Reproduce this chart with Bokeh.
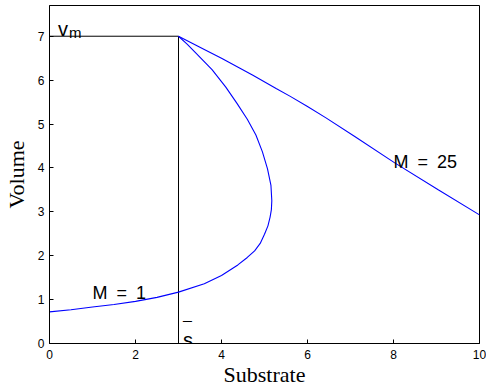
from bokeh.plotting import figure
from bokeh.models import Label, FixedTicker, Range1d
from bokeh.embed import file_html
from bokeh.resources import INLINE

# ---- data ----
m1_x = [0, 0.5, 1, 1.5, 2, 2.5, 3, 3.6, 4.0, 4.38, 4.6, 4.77, 4.9, 5.0, 5.08, 5.13, 5.16, 5.17,
        5.15, 5.07, 4.95, 4.8, 4.6, 4.36, 4.1, 3.78, 3.4, 3.2, 3]
m1_y = [0.72, 0.77, 0.83, 0.89, 0.96, 1.05, 1.17, 1.36, 1.55, 1.79, 1.96, 2.11, 2.28, 2.49, 2.68, 2.88, 3.05, 3.25,
        3.6, 3.98, 4.37, 4.75, 5.11, 5.47, 5.84, 6.24, 6.62, 6.82, 7]

m25_x = [3, 3.6, 4.0, 4.73, 5.27, 5.6, 6.0, 6.43, 7.09, 8.02, 9.03, 10]
m25_y = [7, 6.70, 6.50, 6.11, 5.81, 5.63, 5.40, 5.14, 4.72, 4.12, 3.51, 2.93]

v_m = 7.0
s_bar = 3.0

x_ticks = [0, 2, 4, 6, 8, 10]
y_ticks = [0, 1, 2, 3, 4, 5, 6, 7]

p = figure(width=486, height=389, x_range=Range1d(0, 10), y_range=Range1d(0, 7.70),
           output_backend="svg", toolbar_location=None,
           min_border_left=48, min_border_right=7, min_border_top=5, min_border_bottom=44,
           x_axis_label="Substrate", y_axis_label="Volume")

p.xgrid.visible = False
p.ygrid.visible = False
p.outline_line_color = "black"
p.outline_line_width = 1
p.background_fill_color = "white"
p.border_fill_color = "white"

p.xaxis.ticker = FixedTicker(ticks=x_ticks)
p.yaxis.ticker = FixedTicker(ticks=y_ticks)
for ax in (p.xaxis, p.yaxis):
    ax.axis_line_color = "black"
    ax.major_tick_line_color = "black"
    ax.major_tick_in = 4
    ax.major_tick_out = 0
    ax.minor_tick_line_color = None
    ax.major_label_text_font = "Liberation Sans"
    ax.major_label_text_font_size = "12px"
    ax.major_label_text_color = "black"
    ax.axis_label_text_font = "Liberation Serif"
    ax.axis_label_text_font_size = "22px"
    ax.axis_label_text_font_style = "normal"
    ax.axis_label_text_color = "black"
p.xaxis.major_label_standoff = 6
p.xaxis.axis_label_standoff = 0
p.yaxis.major_label_standoff = 5
p.yaxis.axis_label_standoff = 6

# reference lines
p.line([0, s_bar], [v_m, v_m], line_color="black", line_width=1)
p.line([s_bar, s_bar], [0, v_m], line_color="black", line_width=1)

# curves
p.line(m1_x, m1_y, line_color="#0000ff", line_width=1.1)
p.line(m25_x, m25_y, line_color="#0000ff", line_width=1.1)

font = "Liberation Sans"
p.add_layout(Label(x=0, y=v_m, x_offset=8.5, y_offset=7.7, text="v", text_font=font,
                   text_font_size="20px", text_color="black", text_baseline="alphabetic"))
p.add_layout(Label(x=0, y=v_m, x_offset=19.5, y_offset=4, text="m", text_font=font,
                   text_font_size="15px", text_color="black", text_baseline="alphabetic"))
p.add_layout(Label(x=s_bar, y=0, x_offset=4.5, y_offset=3.5, text="s", text_font=font,
                   text_font_size="20px", text_color="black", text_baseline="alphabetic"))
p.add_layout(Label(x=s_bar, y=0, x_offset=4.5, y_offset=15, text="\u00af", text_font=font,
                   text_font_size="16px", text_font_style="bold", text_color="black",
                   text_baseline="alphabetic"))
p.add_layout(Label(x=1.0, y=1.155, text="M\u2002=\u20021", text_font=font,
                   text_font_size="18px", text_color="black", text_baseline="alphabetic"))
p.add_layout(Label(x=8.0, y=4.13, text="M\u2002=\u200225", text_font=font,
                   text_font_size="18px", text_color="black", text_baseline="alphabetic"))

open("out.html", "w").write(file_html(p, INLINE))
